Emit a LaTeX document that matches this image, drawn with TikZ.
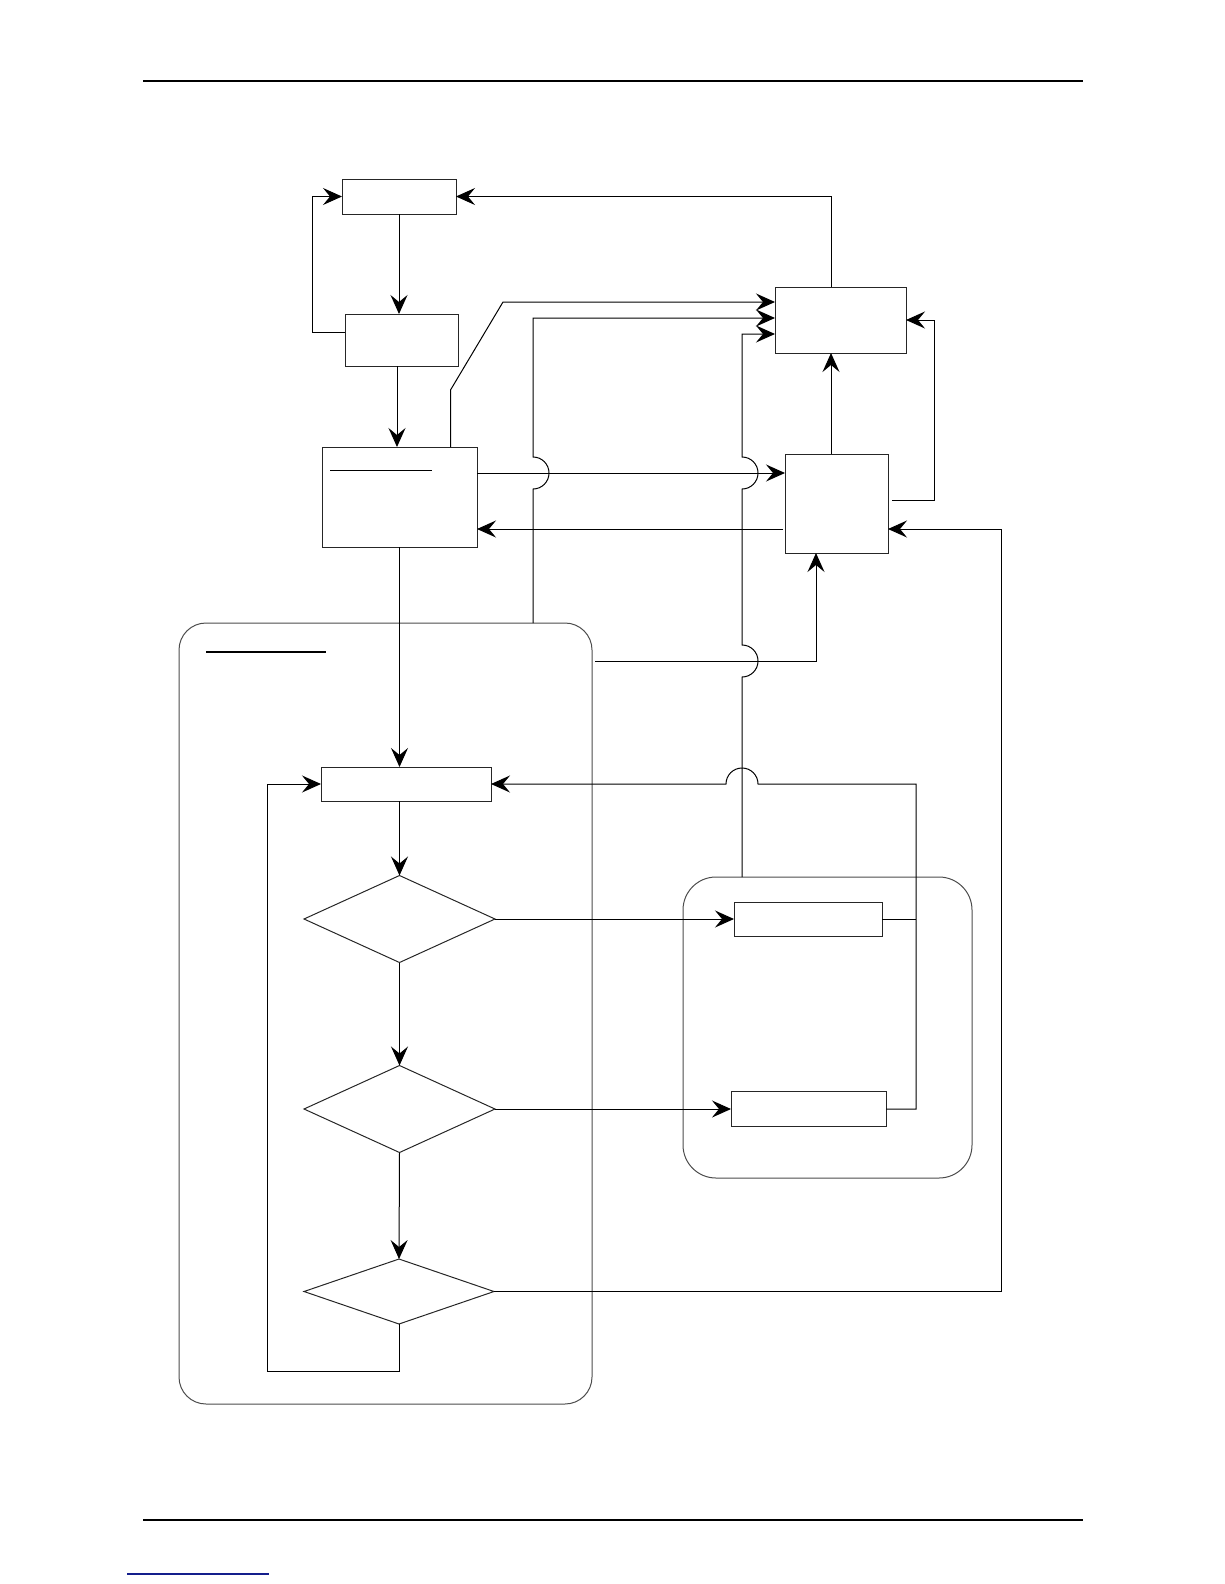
\documentclass[tikz,border=0pt]{standalone}
\usetikzlibrary{arrows.meta,shapes.geometric,calc}
\begin{document}
\begin{tikzpicture}[x=1pt,y=-1pt,
  line width=1pt, line join=miter,
  box/.style={draw=black!85, rectangle, inner sep=0pt, outer sep=0pt},
  dia/.style={draw=black!85, diamond, inner sep=0pt, outer sep=0pt},
  group/.style={draw=black!70, rectangle, inner sep=0pt, outer sep=0pt},
  arr/.style={-{Stealth[length=19pt,width=17pt,inset=7pt]}},
  rule/.style={line width=1.4pt}]
\useasboundingbox (0,0) rectangle (1224,1584);
% page rules
\draw[rule] (143,81) -- (1083,81);
\draw[rule] (143,1520) -- (1083,1520);
\draw[draw={rgb,255:red,20;green,30;blue,140}, line width=1.1pt] (127,1574) -- (269,1574);

% groups
\node[group, rounded corners=27pt, minimum width=413pt, minimum height=781pt] (P) at (385.5,1013.5) {};
\node[group, rounded corners=33pt, minimum width=289pt, minimum height=301pt] (Q) at (827.5,1027.5) {};
\draw[line width=1.4pt] (206,652) -- (326,652);

% boxes
\node[box, minimum width=114pt, minimum height=35pt] (A) at (399,196.5) {};
\node[box, minimum width=113pt, minimum height=52pt] (B) at (401.5,340) {};
\node[box, minimum width=155pt, minimum height=100pt] (C) at (399.5,497) {};
\draw (330,470) -- (432,470);
\node[box, minimum width=131pt, minimum height=66pt] (D) at (840.5,320) {};
\node[box, minimum width=103pt, minimum height=99pt] (E) at (836.5,503.5) {};
\node[box, minimum width=170pt, minimum height=34pt] (F) at (406,784) {};
\node[box, minimum width=148pt, minimum height=34pt] (G1) at (808,919) {};
\node[box, minimum width=155pt, minimum height=35pt] (G2) at (808.5,1109) {};
\node[dia, minimum width=191pt, minimum height=87pt] (D1) at (399.5,919) {};
\node[dia, minimum width=191pt, minimum height=87pt] (D2) at (399.5,1109) {};
\node[dia, minimum width=190pt, minimum height=65pt] (D3) at (399,1291.5) {};

% connectors
\draw[arr] (A.south) -- (A.south |- B.north);
\draw[arr] ([yshift=8pt]B.west) -- (312,332) |- (A.west);
\draw[arr] ([xshift=-4.5pt]B.south) -- ([xshift=-4.5pt]B.south |- C.north);
\draw[arr] ([xshift=-9.5pt]D.north) |- (A.east);
\draw[arr] ([xshift=51pt]C.north) -- ++(0,-57) -- (503,302) -- ([yshift=18pt]D.west);
\draw[arr] (533,623) -- (533,489) arc[start angle=-90,end angle=90,radius=16pt] -- (533,318) -- ([yshift=2pt]D.west);
\draw[arr] (742,877) -- (742,677) arc[start angle=-90,end angle=90,radius=16pt] -- (742,489) arc[start angle=-90,end angle=90,radius=16pt] -- (742,334) -- ([yshift=-14pt]D.west);
\draw[arr] ([yshift=24pt]C.east) -- ([yshift=24pt]C.east -| E.west);
\draw[arr] ([xshift=-2pt,yshift=-25.5pt]E.west) -- ([yshift=-25.5pt]E.west -| C.east);
\draw[arr] ([xshift=-5.5pt]E.north) -- ([xshift=-5.5pt]E.north |- D.south);
\draw[arr] ([xshift=4pt,yshift=3.5pt]E.east) -| ([xshift=28pt]D.east) -- (D.east);
\draw[arr] (595,661) -| ([xshift=-20.5pt]E.south);
\draw[arr] (C.south) -- (C.south |- F.north);
\draw[arr] (D1.north |- F.south) -- (D1.north);
\draw[arr] (D1.south) -- (D2.north);
\draw[arr] (D2.south) -- (D3.north);
\draw[arr] (D1.east) -- (G1.west);
\draw[arr] (D2.east) -- (G2.west);
\draw (G1.east) -- (916,919);
\draw[arr] (G2.east) -| (916,784) -- (758,784) arc[start angle=0,end angle=180,radius=16pt] -- (F.east);
\draw[arr] (D3.south) |- (267,1371) |- (F.west);
\draw[arr] (D3.east) -| ([xshift=113pt,yshift=-25.5pt]E.east) -- ([yshift=-25.5pt]E.east);
\end{tikzpicture}
\end{document}
